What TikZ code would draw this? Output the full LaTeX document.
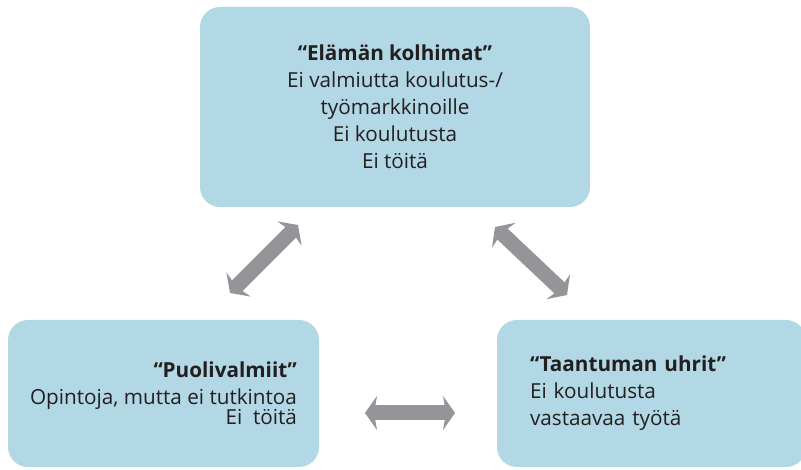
\documentclass[tikz,border=0pt]{standalone}
\usepackage{fontspec}
\setmainfont{Open Sans}
\usetikzlibrary{arrows.meta}

\definecolor{laatikko}{RGB}{178,216,229}
\definecolor{nuoli}{RGB}{147,149,152}
\definecolor{teksti}{RGB}{35,31,32}

\begin{document}
\begin{tikzpicture}[x=1pt, y=1pt,
    ryhma/.style={fill=laatikko, rounded corners=20pt, text=teksti,
        font=\fontsize{20.7}{27}\selectfont, inner sep=0pt},
    kaksisuunta/.style={nuoli, line width=15pt,
        {Stealth[length=12pt, width=34pt, inset=3pt]}-{Stealth[length=12pt, width=34pt, inset=3pt]}}]

    \useasboundingbox (0,0) rectangle (801,470);

    %-------------------------
    % Laatikot
    %-------------------------
    \node[ryhma, minimum width=390pt, minimum height=200pt, align=center]
        (kolhimat) at (395,363)
        {\textbf{“Elämän kolhimat”}\\Ei valmiutta koulutus-/\\työmarkkinoille\\Ei koulutusta\\Ei töitä};

    \node[ryhma, minimum width=311pt, minimum height=147pt, align=right]
        (puoli) at (163.5,76.5)
        {\textbf{“Puolivalmiit”}\\Opintoja, mutta ei tutkintoa\\[-7pt]Ei\ \ töitä};

    \node[ryhma, minimum width=309pt, minimum height=147pt, text width=243pt, align=left]
        (taantuma) at (651.5,76.5)
        {\textbf{“Taantuman uhrit”}\\Ei koulutusta\\vastaavaa työtä};

    %-------------------------
    % Nuolet
    %-------------------------
    \coordinate (vasA) at (230,177);
    \coordinate (vasY) at (298,245);
    \coordinate (oikY) at (495,243);
    \coordinate (oikA) at (567,175);
    \coordinate (alaV) at (365,57);
    \coordinate (alaO) at (455,57);

    \draw[kaksisuunta] (vasA) -- (vasY);
    \draw[kaksisuunta] (oikY) -- (oikA);
    \draw[kaksisuunta] (alaV) -- (alaO);

\end{tikzpicture}
\end{document}
